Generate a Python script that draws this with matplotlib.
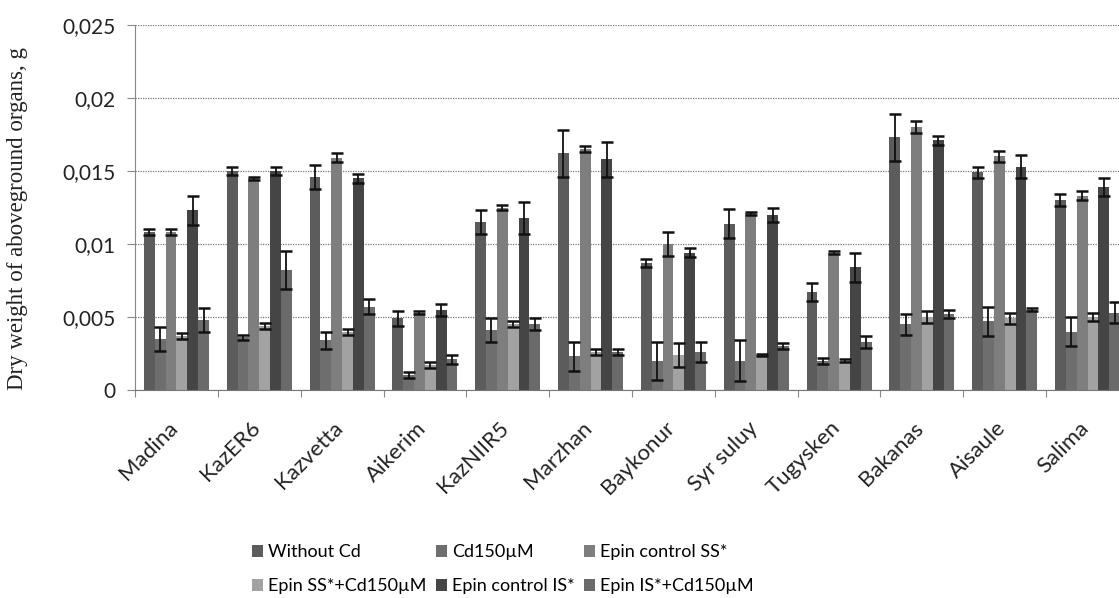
import numpy as np
import matplotlib
matplotlib.use("Agg")
from matplotlib import pyplot as plt
from matplotlib import transforms

# cultivars and series
cultivars = ["Madina", "KazER6", "Kazvetta", "Aikerim", "KazNIIR5", "Marzhan",
             "Baykonur", "Syr suluy", "Tugysken", "Bakanas", "Aisaule", "Salima"]
series = ["Without Cd", "Cd150µM", "Epin control SS*",
          "Epin SS*+Cd150µM", "Epin control IS*", "Epin IS*+Cd150µM"]

without_cd = [0.0108, 0.0150, 0.0146, 0.0049, 0.0115, 0.0162, 0.0087, 0.0114, 0.0067, 0.0173, 0.0149, 0.0130]
without_cd_err = [0.0002, 0.0003, 0.0008, 0.0005, 0.0008, 0.0016, 0.0003, 0.0010, 0.0006, 0.0016, 0.0004, 0.0004]

cd150 = [0.0035, 0.0036, 0.0034, 0.0010, 0.0041, 0.0023, 0.0020, 0.0020, 0.0020, 0.0045, 0.0047, 0.0040]
cd150_err = [0.0008, 0.0002, 0.0006, 0.0002, 0.0008, 0.0010, 0.0013, 0.0014, 0.0002, 0.0007, 0.0010, 0.0010]

epin_ss = [0.0108, 0.0145, 0.0159, 0.0053, 0.0125, 0.0165, 0.0100, 0.0121, 0.0094, 0.0180, 0.0160, 0.0133]
epin_ss_err = [0.0002, 0.0001, 0.0003, 0.0001, 0.0002, 0.0002, 0.0008, 0.0001, 0.0001, 0.0004, 0.0004, 0.0003]

epin_ss_cd = [0.0037, 0.0044, 0.0040, 0.0017, 0.0045, 0.0026, 0.0024, 0.0024, 0.0020, 0.0050, 0.0049, 0.0050]
epin_ss_cd_err = [0.0002, 0.0002, 0.0002, 0.0002, 0.0002, 0.0002, 0.0008, 0.0001, 0.0001, 0.0004, 0.0004, 0.0003]

epin_is = [0.0123, 0.0150, 0.0145, 0.0055, 0.0118, 0.0158, 0.0094, 0.0120, 0.0084, 0.0171, 0.0153, 0.0139]
epin_is_err = [0.0010, 0.0003, 0.0003, 0.0004, 0.0011, 0.0012, 0.0003, 0.0005, 0.0010, 0.0003, 0.0008, 0.0006]

epin_is_cd = [0.0048, 0.0082, 0.0057, 0.0021, 0.0045, 0.0026, 0.0026, 0.0030, 0.0033, 0.0052, 0.0055, 0.0053]
epin_is_cd_err = [0.0008, 0.0013, 0.0005, 0.0003, 0.0004, 0.0002, 0.0007, 0.0002, 0.0004, 0.0003, 0.0001, 0.0007]

values = [without_cd, cd150, epin_ss, epin_ss_cd, epin_is, epin_is_cd]
errors = [without_cd_err, cd150_err, epin_ss_err, epin_ss_cd_err, epin_is_err, epin_is_cd_err]
colors = ["#5c5c5c", "#6e6e6e", "#7e7e7e", "#a2a2a2", "#454545", "#6a6a6a"]

plt.rcParams["font.family"] = ["Lato", "DejaVu Sans"]

fig = plt.figure(figsize=(11.19, 5.98), dpi=100)
ax = fig.add_axes([135 / 1119, 208 / 598, 994 / 1119, 365 / 598])

x = np.arange(len(cultivars))
w = 0.131
handles = []
for i, (vals, errs) in enumerate(zip(values, errors)):
    pos = x + (i - 2.5) * w
    b = ax.bar(pos, vals, width=w, color=colors[i], label=series[i], zorder=2)
    handles.append(b)
    ax.errorbar(pos, vals, yerr=errs, fmt="none", ecolor="#111111",
                elinewidth=1.3, capsize=4, capthick=1.8, zorder=3)

ax.set_xlim(-0.5, len(cultivars) - 0.5)
ax.set_ylim(0, 0.025)
ax.set_yticks(np.arange(0, 0.0251, 0.005))
ax.set_yticklabels(["0", "0,005", "0,01", "0,015", "0,02", "0,025"], fontsize=15, color="#222222")
ax.yaxis.grid(True, linestyle=(0, (1, 1)), color="#777777", linewidth=0.9, zorder=0)
ax.tick_params(axis="y", length=6, width=0.8, color="#888888", pad=8)

ax.set_xticks(x)
ax.set_xticklabels(cultivars, rotation=45, ha="right", rotation_mode="anchor",
                   fontsize=16, color="#222222")
ax.tick_params(axis="x", length=0, pad=20)
shift = transforms.ScaledTranslation(-9 / 100, 0, fig.dpi_scale_trans)
for lbl in ax.get_xticklabels():
    lbl.set_transform(lbl.get_transform() + shift)
ax.set_xticks(np.arange(-0.5, len(cultivars)), minor=True)
ax.tick_params(axis="x", which="minor", length=5, width=0.8, color="#888888")

for s in ["top", "right"]:
    ax.spines[s].set_visible(False)
ax.spines["left"].set_color("#888888")
ax.spines["bottom"].set_color("#777777")
ax.spines["bottom"].set_linestyle((0, (1, 1)))

ax.set_ylabel("Dry weight of aboveground organs, g", fontsize=16.5,
              family="Liberation Serif", color="#222222")
ax.yaxis.set_label_coords(-0.108, 0.47)

# legend fills column by column, so reorder to read row by row
order = [0, 3, 1, 4, 2, 5]
fig.legend([handles[k] for k in order], [series[k] for k in order],
           loc="upper left", bbox_to_anchor=(236 / 1119, 1 - 528 / 598), ncol=3,
           frameon=False, fontsize=13, handlelength=0.6, handleheight=0.6,
           handletextpad=0.3, columnspacing=0.5, labelspacing=1.0)

fig.savefig("out.png", dpi=100)
